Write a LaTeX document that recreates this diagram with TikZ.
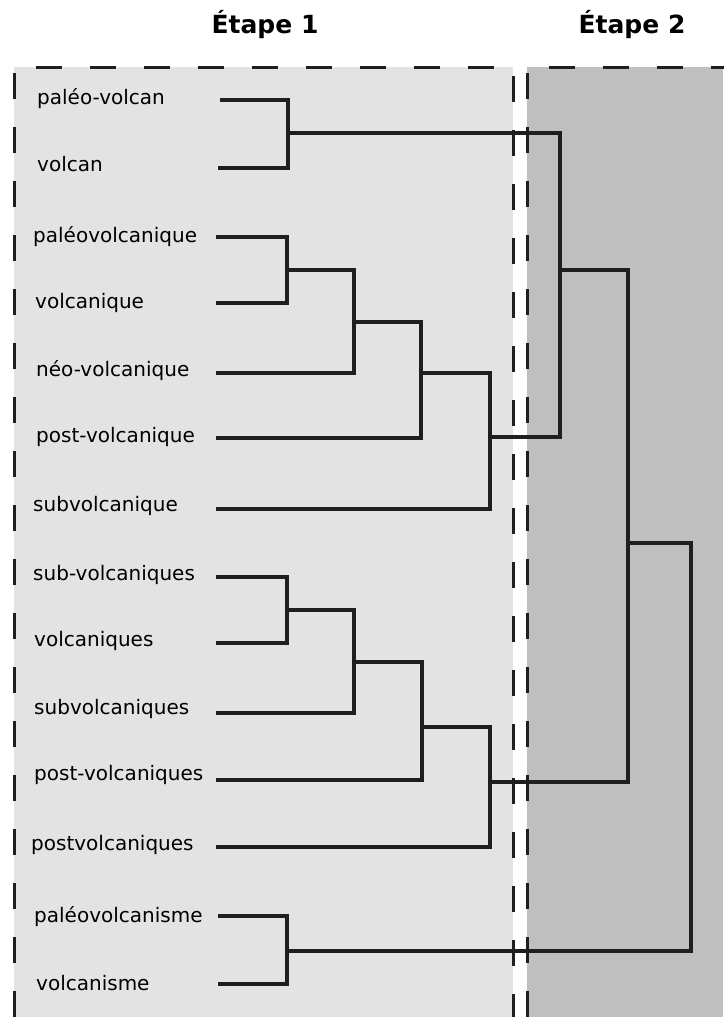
\documentclass[tikz,border=0pt]{standalone}
\usepackage{fontspec}
\setmainfont{DejaVu Sans}
\begin{document}
\begin{tikzpicture}[x=1pt,y=-1pt,
  lbl/.style={anchor=base west,inner sep=0pt,font=\fontsize{20}{24}\selectfont},
  ttl/.style={anchor=base,inner sep=0pt,font=\bfseries\fontsize{25}{30}\selectfont},
  tree/.style={line width=3.2pt,draw=black!88,line cap=rect},
  frame/.style={line width=3pt,draw=black!88,dash pattern=on 26pt off 28pt}]
\useasboundingbox (0,0) rectangle (723,1017);
\fill[white] (0,0) rectangle (723,1017);
\fill[black!11] (14,67) rectangle (513,1017);
\fill[black!25] (527,67) rectangle (723,1017);
\draw[frame] (14,1017) -- (14,67) -- (513,67) -- (513,1017);
\draw[frame] (527,1017) -- (527,67) -- (735,67);
\node[ttl] (t1) at (265,33) {Étape 1};
\node[ttl] (t2) at (632,33) {Étape 2};
% labels
\node[lbl] (l1) at (37,104) {paléo-volcan};
\node[lbl] (l2) at (37,171) {volcan};
\node[lbl] (l3) at (33,242) {paléovolcanique};
\node[lbl] (l4) at (35,308) {volcanique};
\node[lbl] (l5) at (36,376) {néo-volcanique};
\node[lbl] (l6) at (36,442) {post-volcanique};
\node[lbl] (l7) at (33,511) {subvolcanique};
\node[lbl] (l8) at (33,580) {sub-volcaniques};
\node[lbl] (l9) at (34,646) {volcaniques};
\node[lbl] (l10) at (34,714) {subvolcaniques};
\node[lbl] (l11) at (34,780) {post-volcaniques};
\node[lbl] (l12) at (31,850) {postvolcaniques};
\node[lbl] (l13) at (34,922) {paléovolcanisme};
\node[lbl] (l14) at (36,990) {volcanisme};
% leaf ends
\coordinate (a1) at (222,100);
\coordinate (a2) at (220,168);
\coordinate (a3) at (218,237);
\coordinate (a4) at (218,303);
\coordinate (a5) at (218,373);
\coordinate (a6) at (218,438);
\coordinate (a7) at (218,509);
\coordinate (a8) at (218,577);
\coordinate (a9) at (218,643);
\coordinate (a10) at (218,713);
\coordinate (a11) at (218,780);
\coordinate (a12) at (218,847);
\coordinate (a13) at (220,916);
\coordinate (a14) at (220,984);
% merges
\coordinate (m1) at (288,133);
\coordinate (m2) at (287,270);
\coordinate (m3) at (354,322);
\coordinate (m4) at (421,373);
\coordinate (m5) at (490,437);
\coordinate (m6) at (560,270);
\coordinate (m7) at (287,610);
\coordinate (m8) at (354,662);
\coordinate (m9) at (422,727);
\coordinate (m10) at (490,782);
\coordinate (m11) at (628,543);
\coordinate (m12) at (287,951);
\coordinate (m13) at (691,747);
\draw[tree] (a1) -| (m1) |- (a2);
\draw[tree] (a3) -| (m2) |- (a4);
\draw[tree] (m2) -| (m3) |- (a5);
\draw[tree] (m3) -| (m4) |- (a6);
\draw[tree] (m4) -| (m5) |- (a7);
\draw[tree] (m1) -| (m6) |- (m5);
\draw[tree] (a8) -| (m7) |- (a9);
\draw[tree] (m7) -| (m8) |- (a10);
\draw[tree] (m8) -| (m9) |- (a11);
\draw[tree] (m9) -| (m10) |- (a12);
\draw[tree] (m6) -| (m11) |- (m10);
\draw[tree] (a13) -| (m12) |- (a14);
\draw[tree] (m11) -| (m13) |- (m12);
\end{tikzpicture}
\end{document}
